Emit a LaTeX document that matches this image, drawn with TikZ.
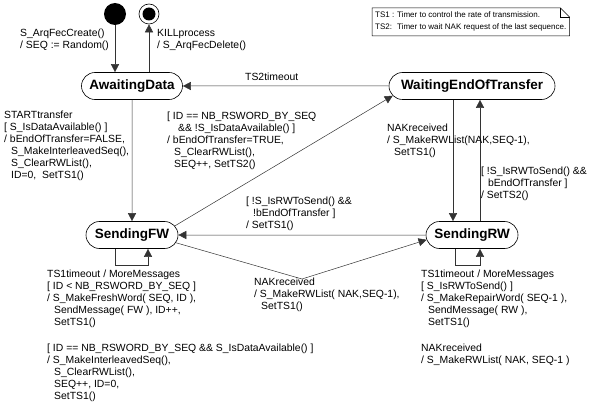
\documentclass[tikz,border=0pt]{standalone}
\usepackage{fontspec}
\setmainfont{Liberation Sans}
\usetikzlibrary{arrows.meta,shapes.misc}

\tikzset{
  state/.style={draw=black, line width=0.6pt, rounded rectangle, minimum height=27pt,
    inner xsep=0pt, font=\fontsize{13.5}{16}\selectfont\bfseries},
  trans/.style={draw=black!80, line width=0.5pt, -{Triangle[length=8pt,width=8pt]}},
  lbl/.style={anchor=north west, inner sep=0pt, align=left, font=\fontsize{10.4}{12}\selectfont},
  initstate/.style={circle, fill=black, minimum size=22pt, inner sep=0pt},
  finalstate/.style={circle, draw=black, line width=0.6pt, minimum size=20pt, inner sep=0pt,
    path picture={\fill (path picture bounding box.center) circle[radius=6.5pt];}},
}
\newcommand{\lblind}{\hspace*{7pt}}

\begin{document}
\begin{tikzpicture}[x=1pt,y=-1pt]
    \useasboundingbox (0,0) rectangle (589,409);
    % states
    \node[initstate] (init) at (115,14) {};
    \node[finalstate] (final) at (149,14) {};
    \node[state, minimum width=101pt] (AwaitingData) at (132,86) {AwaitingData};
    \node[state, minimum width=166pt] (WaitingEndOfTransfer) at (472,86) {WaitingEndOfTransfer};
    \node[state, minimum width=92pt] (SendingFW) at (132,235) {SendingFW};
    \node[state, minimum width=92pt] (SendingRW) at (472,235) {SendingRW};
    \coordinate (nakbend) at (302,279);

    % note
    \node[anchor=north west, inner xsep=3pt, inner ysep=4pt, align=left, font=\fontsize{8}{12}\selectfont] (note) at (372,8)
        {\makebox[22pt][l]{TS1 :}Timer to control the rate of transmission.\\
         \makebox[22pt][l]{TS2:}Timer to wait NAK request of the last sequence.};
    \draw[line width=0.5pt] (note.south west) -- (note.north west) -- ([xshift=-9pt]note.north east)
        -- ([yshift=-9pt]note.north east) -- (note.south east) -- cycle;
    \draw[line width=0.5pt] ([xshift=-9pt]note.north east) -- ++(0,9) -- ([yshift=-9pt]note.north east);

    % transitions
    \draw[trans] (init) -- (init |- AwaitingData.north);
    \draw[trans] ([xshift=17pt]AwaitingData.north) -- (final);
    \draw[trans] (WaitingEndOfTransfer) -- (AwaitingData);
    \draw[trans] (AwaitingData) -- (SendingFW);
    \draw[trans] (SendingFW.12) -- (WaitingEndOfTransfer.187);
    \draw[trans] (SendingRW) -- (SendingFW);
    \draw[trans] (SendingFW.-10) -- (nakbend) -- (SendingRW.186);
    \draw[trans] ([xshift=-19pt]WaitingEndOfTransfer.south) -- ([xshift=-19pt]SendingRW.north);
    \draw[trans] ([xshift=8pt]SendingRW.north) -- ([xshift=8pt]WaitingEndOfTransfer.south);
    \draw[trans] ([xshift=-17pt]SendingFW.south) -- ++(0,16) -| ([xshift=16pt]SendingFW.south);
    \draw[trans] ([xshift=-17pt]SendingRW.south) -- ++(0,16) -| ([xshift=8pt]SendingRW.south);

    % labels
    \node[lbl] (lblcreate) at (20,29) {S\_ArqFecCreate()\\/ SEQ := Random()};
    \node[lbl] (lblkill) at (157,29) {KILLprocess\\/ S\_ArqFecDelete()};
    \node[lbl] (lbltstwo) at (245,73) {TS2timeout};
    \node[lbl] (lblstart) at (4,111) {STARTtransfer\\{}[ S\_IsDataAvailable() ]\\/ bEndOfTransfer=FALSE,\\
        \lblind S\_MakeInterleavedSeq(),\\\lblind S\_ClearRWList(),\\\lblind ID=0,~~SetTS1()};
    \node[lbl] (lblwait) at (167,112) {[ ID == NB\_RSWORD\_BY\_SEQ\\\hspace*{11pt}\&\& !S\_IsDataAvailable() ]\\
        / bEndOfTransfer=TRUE,\\\lblind S\_ClearRWList(),\\\lblind SEQ++, SetTS2()};
    \node[lbl] (lblnakw) at (387,124) {NAKreceived\\/ S\_MakeRWList(NAK,SEQ-1),\\\lblind SetTS1()};
    \node[lbl] (lblback) at (481,167) {[ !S\_IsRWToSend() \&\&\\\lblind bEndOfTransfer ]\\/ SetTS2()};
    \node[lbl] (lblresume) at (246,197) {[ !S\_IsRWToSend() \&\&\\\lblind !bEndOfTransfer ]\\/ SetTS1()};
    \node[lbl] (lblnakfw) at (254,278) {NAKreceived\\/ S\_MakeRWList( NAK,SEQ-1),\\\lblind SetTS1()};
    \node[lbl] (lblfresh) at (47,270) {TS1timeout / MoreMessages\\{}[ ID < NB\_RSWORD\_BY\_SEQ ]\\
        / S\_MakeFreshWord( SEQ, ID ),\\\lblind SendMessage( FW ), ID++,\\\lblind SetTS1()};
    \node[lbl] (lblnext) at (47,344) {[ ID == NB\_RSWORD\_BY\_SEQ \&\& S\_IsDataAvailable() ]\\
        / S\_MakeInterleavedSeq(),\\\lblind S\_ClearRWList(),\\\lblind SEQ++, ID=0,\\\lblind SetTS1()};
    \node[lbl] (lblrepair) at (421,270) {TS1timeout / MoreMessages\\{}[ S\_IsRWToSend() ]\\
        / S\_MakeRepairWord( SEQ-1 ),\\\lblind SendMessage( RW ),\\\lblind SetTS1()};
    \node[lbl] (lblnakrw) at (421,344) {NAKreceived\\/ S\_MakeRWList( NAK, SEQ-1 )};
\end{tikzpicture}
\end{document}
